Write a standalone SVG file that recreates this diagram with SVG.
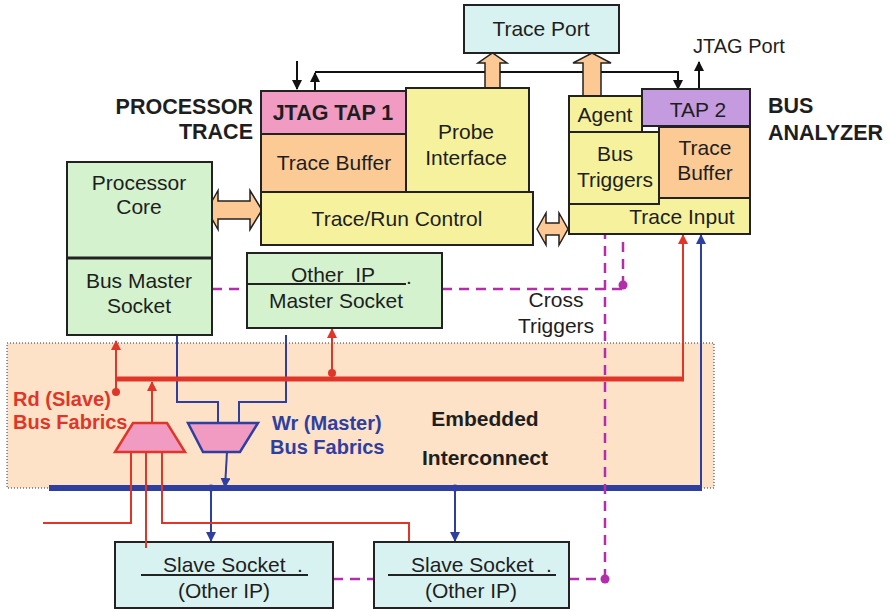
<svg xmlns="http://www.w3.org/2000/svg" width="889" height="612" viewBox="0 0 889 612">
  <defs>
    <style>
      .t { font-family: "Liberation Sans", Arial, Helvetica, sans-serif; font-size: 21px; fill: #1e1e1e; text-anchor: middle; }
      .b { font-weight: bold; font-size: 21.5px; }
      .lbl { text-anchor: start; }
      .end { text-anchor: end; }
      .red { fill: #e0362a; font-size: 20px; }
      .blu { fill: #2f3f9f; font-size: 20px; }
      .box { stroke: #222; stroke-width: 2; }
      .cyan { fill: #d8f2f1; }
      .green { fill: #d3f2cd; }
      .yellow { fill: #f6f19c; }
      .orange { fill: #fccb95; }
      .pink { fill: #f29bc2; }
      .purple { fill: #c49bdf; }
      .blk { stroke: #111; stroke-width: 2; fill: none; }
      .rl { stroke: #e0362a; stroke-width: 2; fill: none; }
      .bl { stroke: #2f3f9f; stroke-width: 2; fill: none; }
      .ml { stroke: #b42daa; stroke-width: 2.5; fill: none; stroke-dasharray: 10 7; }
      .fat { fill: #fcc994; stroke: #222; stroke-width: 1.5; }
    </style>
    <marker id="ak" viewBox="0 0 10 10" refX="9" refY="5" markerWidth="5" markerHeight="5" orient="auto">
      <path d="M0,0 L10,5 L0,10 z" fill="#111"/>
    </marker>
    <marker id="ar" viewBox="0 0 10 10" refX="9" refY="5" markerWidth="5" markerHeight="5" orient="auto">
      <path d="M0,0 L10,5 L0,10 z" fill="#e0362a"/>
    </marker>
    <marker id="ab" viewBox="0 0 10 10" refX="9" refY="5" markerWidth="5" markerHeight="5" orient="auto">
      <path d="M0,0 L10,5 L0,10 z" fill="#2f3f9f"/>
    </marker>
    <marker id="am" viewBox="0 0 10 10" refX="9" refY="5" markerWidth="4" markerHeight="4" orient="auto">
      <path d="M0,0 L10,5 L0,10 z" fill="#b42daa"/>
    </marker>
  </defs>

  <rect width="889" height="612" fill="#ffffff"/>

  <!-- embedded interconnect area -->
  <g id="interconnect">
    <rect x="7" y="343" width="707" height="145" fill="#fde2c7" stroke="#333" stroke-width="1" stroke-dasharray="1 2"/>
    <text class="t b" x="485" y="426" style="font-size:21px">Embedded</text>
    <text class="t b" x="485" y="465" style="font-size:21px">Interconnect</text>
  </g>

  <!-- section headings -->
  <g id="headings">
    <text class="t b end" x="253" y="114">PROCESSOR</text>
    <text class="t b end" x="253" y="139">TRACE</text>
    <text class="t b lbl" x="768" y="113">BUS</text>
    <text class="t b lbl" x="768" y="140">ANALYZER</text>
    <text class="t lbl" x="693" y="53" style="font-size:20px">JTAG Port</text>
    <text class="t b lbl red" x="13" y="406">Rd (Slave)</text>
    <text class="t b lbl red" x="13" y="429">Bus Fabrics</text>
    <text class="t b lbl blu" x="272" y="430">Wr (Master)</text>
    <text class="t b lbl blu" x="270" y="454">Bus Fabrics</text>
    <text class="t" x="556" y="307">Cross</text>
    <text class="t" x="556" y="333">Triggers</text>
  </g>

  <!-- connectors -->
  <g id="connectors">
    <!-- JTAG chain -->
    <line class="blk" x1="297" y1="61" x2="297" y2="89" marker-end="url(#ak)"/>
    <path class="blk" d="M315,72 H678 V89" marker-end="url(#ak)"/>
    <line class="blk" x1="315" y1="91" x2="315" y2="73" marker-end="url(#ak)"/>
    <line class="blk" x1="699" y1="89" x2="699" y2="62" marker-end="url(#ak)"/>

    <!-- write path (blue) -->
    <path class="bl" d="M177,335 V402 H218 V430"/>
    <path class="bl" d="M286,335 V402 H239 V430"/>
    <line class="bl" x1="227" y1="452" x2="225" y2="487" marker-end="url(#ab)"/>
    <line class="bl" x1="211" y1="488" x2="211" y2="541" marker-end="url(#ab)"/>
    <line class="bl" x1="455" y1="488" x2="455" y2="541" marker-end="url(#ab)"/>
    <line class="bl" x1="701" y1="488" x2="701" y2="235" marker-end="url(#ab)"/>
    <line x1="49" y1="488" x2="702" y2="488" stroke="#2f3f9f" stroke-width="6"/>
    <circle cx="211" cy="488" r="3.5" fill="#2f3f9f"/>
    <circle cx="455" cy="488" r="3.5" fill="#2f3f9f"/>

    <!-- read path (red) -->
    <line class="rl" x1="116" y1="392" x2="116" y2="341" marker-end="url(#ar)"/>
    <line class="rl" x1="152" y1="423" x2="152" y2="382" marker-end="url(#ar)"/>
    <line class="rl" x1="332" y1="373" x2="332" y2="329" marker-end="url(#ar)"/>
    <line class="rl" x1="683" y1="379" x2="683" y2="235" marker-end="url(#ar)"/>
    <line x1="116" y1="379" x2="684" y2="379" stroke="#e0362a" stroke-width="5"/>
    <circle cx="116" cy="392" r="4" fill="#e0362a"/>
    <circle cx="332" cy="373" r="4" fill="#e0362a"/>
    <path class="rl" d="M131,452 V523 H43"/>
    <path class="rl" d="M146,452 V548"/>
    <path class="rl" d="M162,452 V523 H409 V542"/>

    <!-- cross triggers (magenta) -->
    <line class="ml" x1="212" y1="289" x2="247" y2="289"/>
    <path class="ml" d="M442,289 H623 V286"/>
    <line class="ml" x1="623" y1="286" x2="623" y2="205" marker-end="url(#am)"/>
    <line class="ml" x1="605" y1="579" x2="605" y2="205" marker-end="url(#am)"/>
    <line class="ml" x1="333" y1="579" x2="374" y2="579"/>
    <line class="ml" x1="569" y1="579" x2="605" y2="579"/>
    <circle cx="623" cy="285" r="4.5" fill="#b42daa"/>
    <circle cx="605" cy="579" r="4.5" fill="#b42daa"/>

    <!-- wide data arrows -->
    <path class="fat" d="M485,88 V63 H478 L492.5,53 L507,63 H500 V88 z"/>
    <path class="fat" d="M583,96 V63 H573 L592,53 L611,63 H601 V96 z"/>
    <path class="fat" d="M207,210 L218,190.5 V201 H250 V190.5 L262,210 L250,229.5 V219 H218 V229.5 z"/>
    <path class="fat" d="M537,229 L546,213 V223 H559 V213 L568,229 L559,245 V235 H546 V245 z"/>
  </g>

  <!-- bus fabric multiplexers -->
  <g id="rd-mux">
    <path d="M133,423 H167 L185,452 H115 z" fill="#f29bc2" stroke="#e0362a" stroke-width="2.5"/>
  </g>
  <g id="wr-mux">
    <path d="M188,423 H258 L240,452 H203 z" fill="#f29bc2" stroke="#2f3f9f" stroke-width="2.5"/>
  </g>

  <!-- trace port -->
  <g id="trace-port">
    <rect class="box cyan" x="464" y="5" width="155" height="48"/>
    <text class="t" x="541" y="36">Trace Port</text>
  </g>

  <!-- processor trace block -->
  <g id="jtag-tap-1">
    <rect class="box pink" x="261" y="91" width="145" height="43"/>
    <text class="t b" x="333" y="120">JTAG TAP 1</text>
  </g>
  <g id="trace-buffer-1">
    <rect class="box orange" x="261" y="134" width="145" height="58"/>
    <text class="t" x="334" y="170">Trace Buffer</text>
  </g>
  <g id="probe-interface">
    <rect class="box yellow" x="406" y="88" width="123" height="104"/>
    <text class="t" x="466" y="139">Probe</text>
    <text class="t" x="466" y="165">Interface</text>
  </g>
  <g id="trace-run-control">
    <rect class="box yellow" x="261" y="192" width="272" height="53"/>
    <text class="t" x="397" y="226">Trace/Run Control</text>
  </g>

  <!-- bus analyzer block -->
  <g id="trace-input">
    <rect class="box yellow" x="569" y="198" width="181" height="36"/>
    <text class="t" x="682" y="224">Trace Input</text>
  </g>
  <g id="agent">
    <rect class="box yellow" x="569" y="96" width="73" height="36"/>
    <text class="t" x="605" y="122">Agent</text>
  </g>
  <g id="bus-triggers">
    <rect class="box yellow" x="569" y="132" width="90" height="72"/>
    <text class="t" x="615" y="161">Bus</text>
    <text class="t" x="615" y="187">Triggers</text>
  </g>
  <g id="tap-2">
    <rect class="box purple" x="642" y="89" width="108" height="37"/>
    <text class="t" x="698" y="117">TAP 2</text>
  </g>
  <g id="trace-buffer-2">
    <rect class="box orange" x="659" y="127" width="91" height="71"/>
    <text class="t" x="705" y="155">Trace</text>
    <text class="t" x="705" y="180">Buffer</text>
  </g>

  <!-- processor core with its bus master socket -->
  <g id="processor-core">
    <rect class="box green" x="67" y="162" width="145" height="173"/>
    <line x1="67" y1="258" x2="212" y2="258" stroke="#222" stroke-width="3"/>
    <text class="t" x="139" y="190">Processor</text>
    <text class="t" x="139" y="214">Core</text>
    <text class="t" x="139" y="288">Bus Master</text>
    <text class="t" x="139" y="313">Socket</text>
  </g>

  <g id="other-ip-master">
    <rect class="box green" x="247" y="253" width="195" height="75"/>
    <line x1="247" y1="284" x2="406" y2="284" stroke="#222" stroke-width="2"/>
    <text class="t" x="333" y="282" xml:space="preserve">Other  IP</text>
    <text class="t" x="409" y="284">.</text>
    <text class="t" x="336" y="308">Master Socket</text>
  </g>

  <!-- slave sockets -->
  <g id="slave-socket-1">
    <rect class="box cyan" x="115" y="542" width="218" height="66"/>
    <line x1="141" y1="575" x2="308" y2="575" stroke="#222" stroke-width="2"/>
    <text class="t lbl" x="163" y="572">Slave Socket</text>
    <text class="t" x="300" y="572">.</text>
    <text class="t" x="224" y="598">(Other IP)</text>
  </g>
  <g id="slave-socket-2">
    <rect class="box cyan" x="374" y="542" width="195" height="66"/>
    <line x1="388" y1="575" x2="556" y2="575" stroke="#222" stroke-width="2"/>
    <text class="t lbl" x="411" y="572">Slave Socket</text>
    <text class="t" x="549" y="572">.</text>
    <text class="t" x="471" y="598">(Other IP)</text>
  </g>

  <!-- the x=146 read line runs into the first slave socket -->
  <line class="rl" x1="146" y1="540" x2="146" y2="548"/>
</svg>
